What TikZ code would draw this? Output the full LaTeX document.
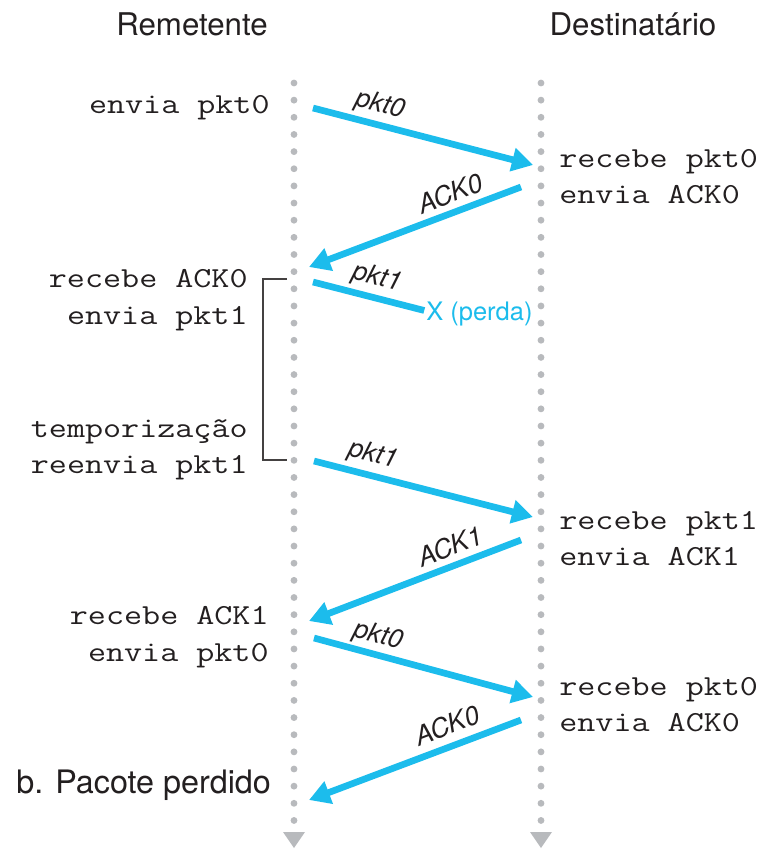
\documentclass[tikz,border=0pt]{standalone}
\usepackage{fontspec}
\setmainfont{TeX Gyre Heros}
\newfontfamily\monof[FakeStretch=1.21]{Latin Modern Mono}
\usetikzlibrary{arrows.meta}
\definecolor{ink}{HTML}{231F20}
\definecolor{cy}{RGB}{28,188,236}
\definecolor{dotg}{HTML}{B8BABD}
\begin{document}
\begin{tikzpicture}[x=0.02cm,y=-0.02cm,
  title/.style={font=\fontsize{17.8}{20}\selectfont, text=ink, inner sep=0pt},
  mono/.style={font=\monof\fontsize{16.5}{18}\selectfont, text=ink, inner sep=0pt},
  lbl/.style={font=\itshape\fontsize{15}{16}\selectfont, text=ink, inner sep=0pt},
  msg/.style={cy, line width=3.8pt, -{Triangle[length=12pt,width=13pt]}},
  lost/.style={cy, line width=3.8pt},
  tldot/.style={fill=dotg},
  bracketline/.style={draw=ink!85, line width=0.7pt}
]
\useasboundingbox (0,0) rectangle (769,849);

% timelines
\foreach \k in {0,...,43} {
  \fill[tldot] (294,83+17.15*\k) circle[radius=1.95pt];
  \fill[tldot] (541,83+17.15*\k) circle[radius=1.95pt];
}
\fill[tldot] (283,832) -- (305,832) -- (294,848) -- cycle;
\fill[tldot] (530,832) -- (552,832) -- (541,848) -- cycle;

% titles
\node[title, anchor=base] (tS) at (192,35) {Remetente};
\node[title, anchor=base] (tR) at (633,35) {Destinatário};
\node[title, font=\fontsize{18.4}{20}\selectfont, anchor=base west] (cap) at (16,793) {b. Pacote perdido};

% sender texts
\node[mono, anchor=base east] (a1) at (270,113) {envia pkt0};
\node[mono, anchor=base east] (a2) at (248,287) {recebe ACK0};
\node[mono, anchor=base east] (a3) at (248,324) {envia pkt1};
\node[mono, anchor=base east] (a4) at (248,437) {temporização};
\node[mono, anchor=base east] (a5) at (248,473) {reenvia pkt1};
\node[mono, anchor=base east] (a6) at (269,624) {recebe ACK1};
\node[mono, anchor=base east] (a7) at (269,661) {envia pkt0};

% receiver texts
\node[mono, anchor=base west] (b1) at (559,167) {recebe pkt0};
\node[mono, anchor=base west] (b2) at (559,203) {envia ACK0};
\node[mono, anchor=base west] (b3) at (559,529) {recebe pkt1};
\node[mono, anchor=base west] (b4) at (559,565) {envia ACK1};
\node[mono, anchor=base west] (b5) at (559,695) {recebe pkt0};
\node[mono, anchor=base west] (b6) at (559,731) {envia ACK0};

% timer bracket
\coordinate (k1) at (287,279);
\coordinate (k2) at (287,460);
\draw[bracketline] (k1) -- (263,279) -- (263,460) -- (k2);

% message endpoints
\coordinate (s1) at (313,108); \coordinate (r1) at (533,165);
\coordinate (r2) at (521,187); \coordinate (s2) at (309,267);
\coordinate (s3) at (313,282);
\coordinate (s4) at (314,461); \coordinate (r4) at (533,517);
\coordinate (r5) at (521,540); \coordinate (s5) at (309,621);
\coordinate (s6) at (314,638); \coordinate (r6) at (533,697);
\coordinate (r7) at (521,720); \coordinate (s7) at (309,800);

\node[font=\fontsize{14.5}{16}\selectfont, text=cy, inner sep=0pt, anchor=west] (lossx) at (426,314) {X (perda)};

\draw[msg] (s1) -- (r1);
\draw[msg] (r2) -- (s2);
\draw[lost] (s3) -- ([xshift=-1pt,yshift=2pt]lossx.west);
\draw[msg] (s4) -- (r4);
\draw[msg] (r5) -- (s5);
\draw[msg] (s6) -- (r6);
\draw[msg] (r7) -- (s7);

% labels
\node[lbl, rotate=-14.5] (l1) at (380,105) {pkt0};
\node[lbl, rotate=21] (l2) at (450,193) {ACK0};
\node[lbl, rotate=-14.5] (l3) at (377,278) {pkt1};
\node[lbl, rotate=-14.5] (l4) at (373,455) {pkt1};
\node[lbl, rotate=21] (l5) at (450,546) {ACK1};
\node[lbl, rotate=-14.5] (l6) at (378,636) {pkt0};
\node[lbl, rotate=21] (l7) at (447,725) {ACK0};
\end{tikzpicture}
\end{document}
